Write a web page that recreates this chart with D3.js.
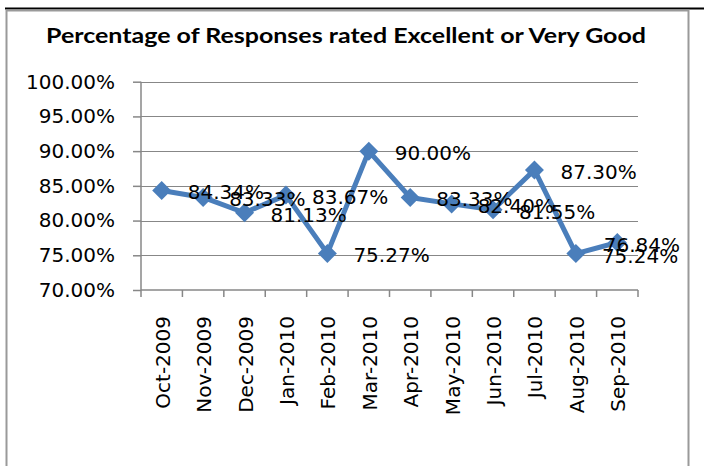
<!DOCTYPE html>
<html>
<head>
<meta charset="utf-8">
<script src="https://cdn.jsdelivr.net/npm/d3@7"></script>
<style>
  html, body { margin: 0; padding: 0; background: #fff; }
  svg { display: block; }
</style>
</head>
<body>
<script>
const categories = ["Oct-2009","Nov-2009","Dec-2009","Jan-2010","Feb-2010","Mar-2010","Apr-2010","May-2010","Jun-2010","Jul-2010","Aug-2010","Sep-2010"];
const values = [84.34, 83.33, 81.13, 83.67, 75.27, 90.00, 83.33, 82.40, 81.55, 87.30, 75.24, 76.84];
const yTicks = [70, 75, 80, 85, 90, 95, 100];
const title = "Percentage of Responses rated Excellent or Very Good";

(function () {
const W = 704, H = 466;
const svg = d3.select("body").append("svg").attr("width", W).attr("height", H);
svg.append("rect").attr("width", W).attr("height", H).attr("fill", "#fff");

// outer frame lines
svg.append("line").attr("x1", 5).attr("x2", 704).attr("y1", 8.5).attr("y2", 8.5)
  .attr("stroke", "#000").attr("stroke-width", 2);
svg.append("path").attr("d", "M6.5,466 V10.5 H688.5 V466")
  .attr("fill", "none").attr("stroke", "#9a9a9a").attr("stroke-width", 2);

// title
svg.append("text").attr("x", 346).attr("y", 43).attr("text-anchor", "middle")
  .attr("font-family", "Lato, 'Open Sans', sans-serif").attr("font-weight", "bold")
  .attr("font-size", 21).attr("textLength", 600).attr("lengthAdjust", "spacingAndGlyphs")
  .attr("fill", "#000").text(title);

const pL = 141, pR = 638, pT = 81.7, pB = 290;
const x = d3.scaleBand().domain(categories).range([pL, pR]);
const y = d3.scaleLinear().domain([70, 100]).range([pB, pT]);
const font = "'DejaVu Sans', Verdana, sans-serif";
const grid = "#878787";

// gridlines
svg.append("g").selectAll("line").data(yTicks.filter(d => d > 70)).join("line")
  .attr("x1", pL).attr("x2", pR)
  .attr("y1", d => Math.round(y(d)) + 0.5).attr("y2", d => Math.round(y(d)) + 0.5)
  .attr("stroke", grid).attr("stroke-width", 1.2);

// y axis
const yAxis = svg.append("g").attr("transform", `translate(${pL},0)`)
  .call(d3.axisLeft(y).tickValues(yTicks).tickSize(8).tickPadding(18)
    .tickFormat(d => d.toFixed(2) + "%"));
yAxis.select(".domain").attr("stroke", grid).attr("stroke-width", 1.5).attr("d", `M0,${pT}V${pB}`);
yAxis.selectAll(".tick line").attr("stroke", grid).attr("stroke-width", 1.5);
yAxis.selectAll(".tick text").attr("font-family", font).attr("font-size", 20).attr("fill", "#000");

// x axis with ticks at band boundaries
const xg = svg.append("g");
xg.append("line").attr("x1", pL).attr("x2", pR).attr("y1", pB).attr("y2", pB)
  .attr("stroke", grid).attr("stroke-width", 1.5);
const bounds = categories.map(c => x(c)).concat([pR]);
xg.selectAll("line.tk").data(bounds).join("line").attr("class", "tk")
  .attr("x1", d => d).attr("x2", d => d).attr("y1", pB).attr("y2", pB + 7)
  .attr("stroke", grid).attr("stroke-width", 1.5);
xg.selectAll("text").data(categories).join("text")
  .attr("transform", d => `translate(${x(d) + x.bandwidth() / 2 + 1},316) rotate(-90)`)
  .attr("text-anchor", "end").attr("dy", "0.35em")
  .attr("font-family", font).attr("font-size", 20).attr("fill", "#000").text(d => d);

// line
const blue = "#4a7ebb";
const cx = d => x(d) + x.bandwidth() / 2;
const line = d3.line().x((d, i) => cx(categories[i])).y(d => y(d));
svg.append("path").datum(values).attr("d", line).attr("fill", "none")
  .attr("stroke", blue).attr("stroke-width", 5).attr("stroke-linejoin", "round");

// markers
const r = 9.5;
svg.append("g").selectAll("path").data(values).join("path")
  .attr("d", (d, i) => {
    const px = cx(categories[i]), py = y(d);
    return `M${px},${py - r}L${px + r},${py}L${px},${py + r}L${px - r},${py}Z`;
  })
  .attr("fill", blue);

// data labels (right of point, kept inside chart area)
const lbl = svg.append("g");
values.forEach((v, i) => {
  const t = lbl.append("text").attr("font-family", font).attr("font-size", 20)
    .attr("fill", "#000").attr("dy", "0.35em").text(v.toFixed(2) + "%");
  let lx = cx(categories[i]) + 26;
  const w = t.node().getComputedTextLength();
  if (lx + w > 680) lx = 680 - w;
  t.attr("x", lx).attr("y", y(v) + 2);
});
})();
</script>
</body>
</html>
